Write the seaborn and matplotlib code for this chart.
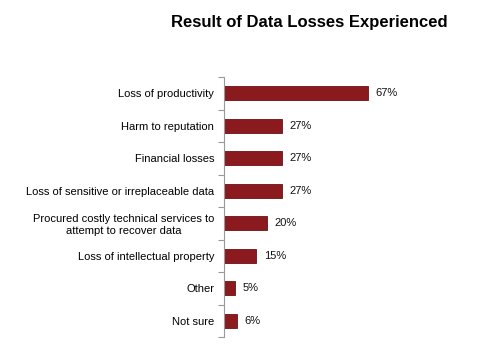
import matplotlib
matplotlib.use("Agg")
import matplotlib.pyplot as plt
import seaborn as sns
import pandas as pd
import numpy as np

categories = [
    "Loss of productivity",
    "Harm to reputation",
    "Financial losses",
    "Loss of sensitive or irreplaceable data",
    "Procured costly technical services to\nattempt to recover data",
    "Loss of intellectual property",
    "Other",
    "Not sure",
]
values = [67, 27, 27, 27, 20, 15, 5, 6]
value_labels = ["67%", "27%", "27%", "27%", "20%", "15%", "5%", "6%"]

sns.set_theme(style="white")
plt.rcParams['font.family'] = ['Liberation Sans', 'DejaVu Sans']

df = pd.DataFrame({"category": categories, "value": values})

fig = plt.figure(figsize=(5.04, 3.52), dpi=100)
ax = fig.add_axes([224/504, 15/352, 256/504, 260/352])

bar_color = "#8B1A1F"
sns.barplot(data=df, y="category", x="value", ax=ax, color=bar_color,
            width=0.42, saturation=1, orient="h")
for p in ax.patches:
    p.set_edgecolor("#6b1015")
    p.set_linewidth(0.6)

ax.set_xlim(0, 256/2.15)
ax.set_ylim(len(categories) - 0.5, -0.5)
ax.set_xlabel("")
ax.set_ylabel("")
ax.set_xticks([])

for i, (v, lab) in enumerate(zip(values, value_labels)):
    ax.text(v + 3.5, i, lab, va="center", ha="left", fontsize=8, color="#111111")

ax.set_yticks(range(len(categories)))
ax.set_yticklabels(categories, fontsize=8, color="#000000")
for t in ax.get_yticklabels():
    t.set_multialignment("center")
ax.tick_params(axis="y", which="major", length=0, pad=7, left=True)
ax.set_yticks(np.arange(-0.5, len(categories), 1), minor=True)
ax.tick_params(axis="y", which="minor", left=True, length=4, color="#999999",
               width=0.8, direction="out")

for s in ["top", "right", "bottom"]:
    ax.spines[s].set_visible(False)
ax.spines["left"].set_color("#999999")
ax.spines["left"].set_linewidth(0.8)

fig.text(309/504, 1 - 22/352, "Result of Data Losses Experienced", ha="center", va="center",
         fontsize=12, fontweight="bold", color="#000000")

fig.savefig("out.png", dpi=100)
